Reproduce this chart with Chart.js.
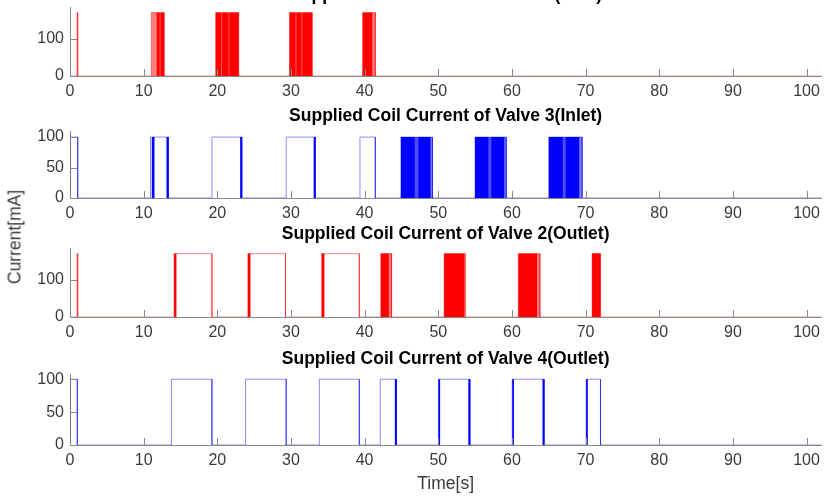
<!DOCTYPE html>
<html>
<head>
<meta charset="utf-8">
<title>Supplied Coil Current</title>
<script src="https://cdn.jsdelivr.net/npm/chart.js@4.4.1/dist/chart.umd.min.js"></script>
<style>
  html, body { margin: 0; padding: 0; background: #fff; }
  body { width: 826px; height: 497px; position: relative; overflow: hidden;
         font-family: "Liberation Sans", Arial, sans-serif; }
  canvas { position: absolute; left: 0; }
  #ylab { position: absolute; left: 15px; top: 237px; font-size: 17.5px; font-weight: normal;
          color: #3a3a3a; white-space: nowrap; transform: translate(-50%, -50%) rotate(-90deg); }
</style>
</head>
<body>
<canvas id="c1" width="826" height="117" style="top:-17px"></canvas>
<canvas id="c2" width="826" height="118" style="top:104px"></canvas>
<canvas id="c3" width="826" height="119" style="top:222px"></canvas>
<canvas id="c4" width="826" height="148" style="top:347px"></canvas>
<div id="ylab">Current[mA]</div>
<script>
// shared time axis
const xTicks = [0, 10, 20, 30, 40, 50, 60, 70, 80, 90, 100];
const xMax = 102;

// Valve 1 (inlet), red
const v1Level = 170;
const v1YMax = 185;
const v1YTicks = [0, 100];
const v1PulseOn   = [0.95, 11.05, 19.78, 29.8, 39.73];
const v1PulseOff  = [1.05, 12.77, 22.89, 32.87, 41.45];
const v1BandOn    = [11.74, 19.78, 29.8, 39.73];
const v1BandOff   = [12.77, 22.89, 32.87, 41.08];
const v1SoftOn    = [11.05, 41.08];
const v1SoftOff   = [11.74, 41.45];
const v1StreakOn  = [12.15, 20.5, 21.5, 30.6, 31.4];
const v1StreakOff = [12.3, 20.65, 21.65, 30.75, 31.55];

// Valve 3 (inlet), blue
const v3Level = 100;
const v3YMax = 110;
const v3YTicks = [0, 50, 100];
const v3PulseOn   = [0, 10.93, 19.27, 29.35, 39.37, 44.93, 54.99, 65.01];
const v3PulseOff  = [1.05, 13.37, 23.34, 33.32, 41.45, 49.21, 59.23, 69.53];
const v3BandOn    = [11.1, 13.1, 23.1, 33.08, 44.93, 54.99, 65.01];
const v3BandOff   = [11.47, 13.37, 23.34, 33.32, 48.98, 59.0, 69.17];
const v3SoftOn    = [48.98, 59.0, 69.17];
const v3SoftOff   = [49.21, 59.23, 69.53];
const v3StreakOn  = [46.8, 56.8, 66.9];
const v3StreakOff = [47.3, 57.2, 67.3];

// Valve 2 (outlet), red
const v2Level = 170;
const v2YMax = 185;
const v2YTicks = [0, 100];
const v2PulseOn   = [0.95, 14.13, 24.15, 34.17, 42.2, 50.79, 60.86, 70.88];
const v2PulseOff  = [1.05, 19.27, 29.26, 39.28, 43.66, 53.64, 63.8, 72.0];
const v2BandOn    = [14.13, 24.15, 34.17, 42.2, 50.79, 60.86, 70.88];
const v2BandOff   = [14.45, 24.5, 34.54, 43.3, 53.5, 63.43, 72.0];
const v2SoftOn    = [43.3, 53.5, 63.43];
const v2SoftOff   = [43.66, 53.64, 63.8];
const v2StreakOn  = [];
const v2StreakOff = [];

// Valve 4 (outlet), blue
const v4Level = 100;
const v4YMax = 108;
const v4YTicks = [0, 50, 100];
const v4PulseOn   = [0, 13.77, 23.84, 33.86, 42.12, 50.02, 60.04, 70.07];
const v4PulseOff  = [0.99, 19.27, 29.35, 39.28, 44.33, 54.31, 64.38, 72.02];
const v4BandOn    = [44.1, 50.02, 54.08, 60.04, 64.15, 70.07];
const v4BandOff   = [44.33, 50.25, 54.31, 60.27, 64.38, 70.3];
const v4SoftOn    = [];
const v4SoftOff   = [];
const v4StreakOn  = [];
const v4StreakOff = [];

// on/off times -> rectangular step trace
function steps(on, off, level) {
  const pts = [{ x: 0, y: 0 }];
  on.forEach((t, i) => {
    pts.push({ x: t, y: 0 }, { x: t, y: level }, { x: off[i], y: level }, { x: off[i], y: 0 });
  });
  pts.push({ x: xMax, y: 0 });
  return pts;
}

// MATLAB-like inward tick marks
const innerTicks = {
  id: "innerTicks",
  afterDatasetsDraw(chart) {
    const { ctx, chartArea, scales } = chart;
    ctx.save();
    ctx.strokeStyle = "#8a8a8a";
    ctx.lineWidth = 1;
    ctx.beginPath();
    scales.x.ticks.forEach(t => {
      const px = Math.round(scales.x.getPixelForValue(t.value)) + 0.5;
      ctx.moveTo(px, chartArea.bottom);
      ctx.lineTo(px, chartArea.bottom - 7);
    });
    scales.y.ticks.forEach(t => {
      const py = Math.round(scales.y.getPixelForValue(t.value)) + 0.5;
      ctx.moveTo(chartArea.left, py);
      ctx.lineTo(chartArea.left + 7, py);
    });
    ctx.stroke();
    ctx.restore();
  }
};

const fam = "'Liberation Sans', Arial, sans-serif";
const tickFont = { family: fam, size: 16 };
const labelFont = { family: fam, size: 17.5 };

function makePanel(id, cfg) {
  const rgb = cfg.rgb;
  new Chart(document.getElementById(id), {
    type: "line",
    data: {
      datasets: [
        { data: steps(cfg.streakOn, cfg.streakOff, cfg.level), fill: "origin",
          backgroundColor: "rgba(255,255,255,0.3)", borderColor: "transparent", order: 0 },
        { data: steps(cfg.softOn, cfg.softOff, cfg.level), fill: "origin",
          backgroundColor: `rgba(${rgb},0.5)`, borderColor: "transparent", order: 1 },
        { data: steps(cfg.bandOn, cfg.bandOff, cfg.level), fill: "origin",
          backgroundColor: `rgb(${rgb})`, borderColor: "transparent", order: 2 },
        { data: steps(cfg.pulseOn, cfg.pulseOff, cfg.level), fill: false,
          borderColor: `rgba(${rgb},0.45)`, borderWidth: 1, order: 3 }
      ]
    },
    options: {
      responsive: false,
      animation: false,
      events: [],
      layout: { padding: { left: 0, right: 3, top: 0, bottom: 0 } },
      elements: { point: { radius: 0 }, line: { tension: 0, borderJoinStyle: "miter" } },
      plugins: {
        legend: { display: false },
        tooltip: { enabled: false },
        title: {
          display: true,
          fullSize: false, // centre over the plot area, like MATLAB
          text: cfg.title,
          color: "#000",
          font: { family: fam, size: 17.5, weight: "bold" },
          padding: { top: 2, bottom: cfg.titleGap }
        }
      },
      scales: {
        x: {
          type: "linear",
          min: 0,
          max: xMax,
          afterBuildTicks: s => { s.ticks = xTicks.map(v => ({ value: v })); },
          afterFit: s => { s.height = cfg.xHeight; },
          grid: { drawOnChartArea: false, drawTicks: false },
          border: { color: "#8a8a8a" },
          ticks: { color: "#3a3a3a", font: tickFont, padding: 6, maxRotation: 0, autoSkip: false },
          title: cfg.xTitle ? { display: true, text: cfg.xTitle, color: "#3a3a3a",
                                font: labelFont, padding: { top: 0, bottom: 0 } } : { display: false }
        },
        y: {
          min: 0,
          max: cfg.yMax,
          afterBuildTicks: s => { s.ticks = cfg.yTicks.map(v => ({ value: v })); },
          afterFit: s => { s.width = 70; },
          grid: { drawOnChartArea: false, drawTicks: false },
          border: { color: "#8a8a8a" },
          ticks: { color: "#3a3a3a", font: tickFont, padding: 6 }
        }
      }
    },
    plugins: [innerTicks]
  });
}

makePanel("c1", {
  title: "Supplied Coil Current of Valve 1(Inlet)", rgb: "255,0,0", titleGap: 1, xHeight: 24,
  level: v1Level, yMax: v1YMax, yTicks: v1YTicks,
  pulseOn: v1PulseOn, pulseOff: v1PulseOff, bandOn: v1BandOn, bandOff: v1BandOff,
  softOn: v1SoftOn, softOff: v1SoftOff, streakOn: v1StreakOn, streakOff: v1StreakOff
});
makePanel("c2", {
  title: "Supplied Coil Current of Valve 3(Inlet)", rgb: "0,0,255", titleGap: 4, xHeight: 24,
  level: v3Level, yMax: v3YMax, yTicks: v3YTicks,
  pulseOn: v3PulseOn, pulseOff: v3PulseOff, bandOn: v3BandOn, bandOff: v3BandOff,
  softOn: v3SoftOn, softOff: v3SoftOff, streakOn: v3StreakOn, streakOff: v3StreakOff
});
makePanel("c3", {
  title: "Supplied Coil Current of Valve 2(Outlet)", rgb: "255,0,0", titleGap: 3, xHeight: 24,
  level: v2Level, yMax: v2YMax, yTicks: v2YTicks,
  pulseOn: v2PulseOn, pulseOff: v2PulseOff, bandOn: v2BandOn, bandOff: v2BandOff,
  softOn: v2SoftOn, softOff: v2SoftOff, streakOn: v2StreakOn, streakOff: v2StreakOff
});
makePanel("c4", {
  title: "Supplied Coil Current of Valve 4(Outlet)", rgb: "0,0,255", titleGap: 4, xHeight: 50,
  xTitle: "Time[s]",
  level: v4Level, yMax: v4YMax, yTicks: v4YTicks,
  pulseOn: v4PulseOn, pulseOff: v4PulseOff, bandOn: v4BandOn, bandOff: v4BandOff,
  softOn: v4SoftOn, softOff: v4SoftOff, streakOn: v4StreakOn, streakOff: v4StreakOff
});
</script>
</body>
</html>
